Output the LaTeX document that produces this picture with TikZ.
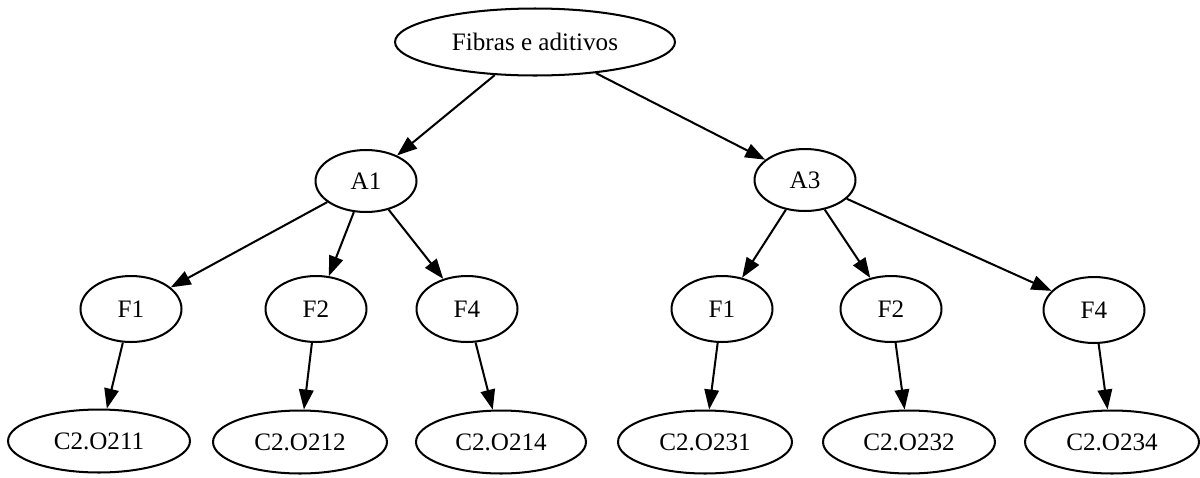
\documentclass[tikz,border=0pt]{standalone}
\usepackage{fontspec}
\setmainfont{Liberation Serif}
\usetikzlibrary{shapes.geometric,arrows.meta}

\begin{document}
\begin{tikzpicture}[x=0.02cm,y=-0.02cm,
    oval/.style={draw,ellipse,line width=1.15pt,inner sep=0pt,font=\fontsize{14.3}{17}\selectfont},
    small/.style={oval,minimum width=2.02cm,minimum height=1.32cm},
    leaf/.style={oval,minimum width=3.48cm,minimum height=1.26cm},
    link/.style={-{Triangle[length=4mm,width=2.9mm]},line width=1.15pt}]
  \useasboundingbox (0,0) rectangle (1200,477);
  % root and the two A nodes
  \node[oval,minimum width=5.6cm,minimum height=1.34cm] (fib) at (535,42) {Fibras e aditivos};
  \node[small,minimum height=1.24cm] (aI) at (366,181) {A1};
  \node[small,minimum height=1.24cm] (aIII) at (805,180) {A3};
  % F row
  \node[small] (fIa) at (131,309) {F1};
  \node[small] (fIb) at (316,309) {F2};
  \node[small] (fIc) at (467,309) {F4};
  \node[small] (fIIIa) at (722,309) {F1};
  \node[small] (fIIIb) at (891,309) {F2};
  \node[small] (fIIIc) at (1094,310) {F4};
  % C2 row
  \node[leaf,minimum width=3.64cm] (cIa) at (99,441) {C2.O211};
  \node[leaf] (cIb) at (300,442) {C2.O212};
  \node[leaf,minimum width=3.4cm] (cIc) at (501,442) {C2.O214};
  \node[leaf] (cIIIa) at (705,442) {C2.O231};
  \node[leaf,minimum width=3.44cm] (cIIIb) at (909,442) {C2.O232};
  \node[leaf] (cIIIc) at (1112,442) {C2.O234};

  \draw[link] (fib) -- (aI);
  \draw[link] (fib) -- (aIII);
  \draw[link] (aI) -- (fIa);
  \draw[link] (aI) -- (fIb);
  \draw[link] (aI) -- (fIc);
  \draw[link] (aIII) -- (fIIIa);
  \draw[link] (aIII) -- (fIIIb);
  \draw[link] (aIII) -- (fIIIc);
  \draw[link] (fIa) -- (cIa);
  \draw[link] (fIb) -- (cIb);
  \draw[link] (fIc) -- (cIc);
  \draw[link] (fIIIa) -- (cIIIa);
  \draw[link] (fIIIb) -- (cIIIb);
  \draw[link] (fIIIc) -- (cIIIc);
\end{tikzpicture}
\end{document}
